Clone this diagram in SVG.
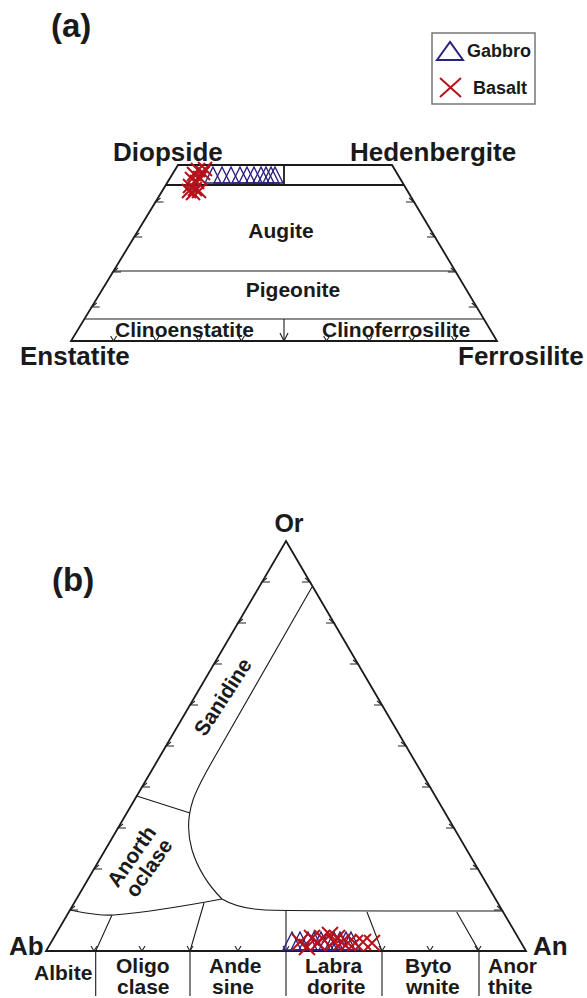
<svg xmlns="http://www.w3.org/2000/svg" xmlns:xlink="http://www.w3.org/1999/xlink" width="587" height="998" viewBox="0 0 587 998">
<style>
text{font-family:"Liberation Sans",Arial,sans-serif;font-weight:bold;fill:#1a1a1a}
.outer{fill:none;stroke:#1a1a1a;stroke-width:1.8}
.inner{fill:none;stroke:#1a1a1a;stroke-width:1.1}
.tick{fill:none;stroke:#222;stroke-width:1.1}
.tri{fill:none;stroke:#2b2180;stroke-width:1.4}
.x{fill:none;stroke:#b5121b;stroke-width:2}
.corner{font-size:26px}
.region{font-size:21px}
.panel{font-size:33px}
.plag{font-size:21px}
</style>
<defs>
<path id="ta" d="M-8,8 L0,-8 L8,8 Z" class="tri"/>
<path id="tb" d="M-9,9 L0,-9 L9,9 Z" class="tri"/>
<path id="xa" d="M-7,-7 L7,7 M-7,7 L7,-7" class="x"/>
<path id="xb" d="M-8,-8 L8,8 M-8,8 L8,-8" class="x"/>
<path id="tl" d="M5,-4 L0,0 L8,0" class="tick"/>
<path id="tr" d="M-5,-4 L0,0 L-8,0" class="tick"/>
<path id="tbot" d="M-3,-5 L0,0 L3,-5" class="tick"/>
</defs>

<text class="panel" x="51" y="37">(a)</text>

<g id="legend">
<rect x="432" y="33" width="103" height="71" fill="#fff" stroke="#777" stroke-width="1.5"/>
<path d="M437,60 L450,42 L463,60 Z" fill="none" stroke="#2b2180" stroke-width="2"/>
<text x="467" y="57" font-size="18">Gabbro</text>
<path d="M440,78 L461,97 M440,97 L461,78" fill="none" stroke="#b5121b" stroke-width="2"/>
<text x="473" y="94" font-size="18">Basalt</text>
</g>

<g id="panel-a">
<polygon class="outer" points="178,165 392,165 497,341 71,341"/>
<g id="a-lines">
<line class="outer" x1="165.8" y1="185" x2="404" y2="185"/>
<line class="inner" x1="113.6" y1="271" x2="455" y2="271"/>
<line class="inner" x1="84.4" y1="319" x2="483.9" y2="319"/>
<line class="outer" x1="284" y1="165" x2="284" y2="185"/>
<line class="inner" x1="284" y1="319" x2="284" y2="341"/>
<path class="inner" d="M280,333 L284,341 L288,333"/>
</g>
<g id="a-ticks">
<use href="#tl" x="155.5" y="202"/><use href="#tl" x="134.2" y="237"/><use href="#tl" x="113" y="272"/><use href="#tl" x="91.7" y="307"/>
<use href="#tr" x="414" y="202"/><use href="#tr" x="435" y="237"/><use href="#tr" x="455.8" y="272"/><use href="#tr" x="476.7" y="307"/>
<use href="#tbot" x="113.6" y="341"/><use href="#tbot" x="156.2" y="341"/><use href="#tbot" x="198.8" y="341"/><use href="#tbot" x="241.4" y="341"/>
<use href="#tbot" x="326.6" y="341"/><use href="#tbot" x="369.2" y="341"/><use href="#tbot" x="411.8" y="341"/><use href="#tbot" x="454.4" y="341"/>
</g>
<text class="corner" x="113" y="161">Diopside</text>
<text class="corner" x="350" y="161">Hedenbergite</text>
<text class="corner" x="20" y="365">Enstatite</text>
<text class="corner" x="458" y="365">Ferrosilite</text>
<text class="region" x="281" y="238" text-anchor="middle">Augite</text>
<text class="region" x="293" y="297" text-anchor="middle">Pigeonite</text>
<text class="region" x="115" y="337">Clinoenstatite</text>
<text class="region" x="322" y="337">Clinoferrosilite</text>
<g id="a-gabbro">
<use href="#ta" x="213" y="175"/><use href="#ta" x="222" y="175"/><use href="#ta" x="231" y="175"/><use href="#ta" x="240" y="175"/>
<use href="#ta" x="247" y="175"/><use href="#ta" x="254" y="175"/><use href="#ta" x="261" y="175"/><use href="#ta" x="266" y="175"/>
<use href="#ta" x="271" y="175"/><use href="#ta" x="275" y="175"/>
</g>
<g id="a-basalt">
<use href="#xa" x="198" y="170"/><use href="#xa" x="203" y="173"/><use href="#xa" x="194" y="174"/><use href="#xa" x="200" y="178"/>
<use href="#xa" x="192" y="179"/><use href="#xa" x="197" y="182"/><use href="#xa" x="205" y="169"/><use href="#xa" x="190" y="186"/>
<use href="#xa" x="195" y="189"/><use href="#xa" x="189" y="191"/><use href="#xa" x="199" y="191"/><use href="#xa" x="193" y="193"/>
</g>
</g>

<text class="panel" x="52" y="591">(b)</text>

<g id="panel-b">
<polygon class="outer" points="286,541 526,951 46,951"/>
<g id="b-lines">
<path class="inner" d="M312,587 L213,760 C205,774 197,788 193,800 C188,815 187,833 192,850 C197,866 207,884 222,899 C232,905 245,909 265,910 C290,911 320,911 502,911"/>
<path class="inner" d="M136.7,796 L190,813"/>
<path class="inner" d="M70,910 C85,913 98,916 114,915 C150,912 190,905 222,899"/>
<path class="inner" d="M112,915 L95.7,951 L95.7,996"/>
<path class="inner" d="M204,903 L190,951 L190,996"/>
<path class="inner" d="M286,911 L286,996"/>
<path class="inner" d="M367,912 L382,951 L382,996"/>
<path class="inner" d="M456.7,912 L479,951 L479,996"/>
</g>
<g id="b-ticks">
<use href="#tl" x="262" y="582"/><use href="#tl" x="238" y="623"/><use href="#tl" x="214" y="664"/><use href="#tl" x="190" y="705"/>
<use href="#tl" x="166" y="746"/><use href="#tl" x="142" y="787"/><use href="#tl" x="118" y="828"/><use href="#tl" x="94" y="869"/><use href="#tl" x="70" y="910"/>
<use href="#tr" x="310" y="582"/><use href="#tr" x="334" y="623"/><use href="#tr" x="358" y="664"/><use href="#tr" x="382" y="705"/>
<use href="#tr" x="406" y="746"/><use href="#tr" x="430" y="787"/><use href="#tr" x="454" y="828"/><use href="#tr" x="478" y="869"/><use href="#tr" x="502" y="910"/>
<use href="#tbot" x="94" y="951"/><use href="#tbot" x="142" y="951"/><use href="#tbot" x="190" y="951"/><use href="#tbot" x="238" y="951"/>
<use href="#tbot" x="286" y="951"/><use href="#tbot" x="334" y="951"/><use href="#tbot" x="382" y="951"/><use href="#tbot" x="430" y="951"/><use href="#tbot" x="478" y="951"/>
</g>
<text x="289" y="532" font-size="25" text-anchor="middle">Or</text>
<text x="9" y="955" font-size="26">Ab</text>
<text x="533" y="955" font-size="26">An</text>
<text class="region" transform="translate(223,697) rotate(-57)" text-anchor="middle" y="7">Sanidine</text>
<text class="region" transform="translate(131.7,856.5) rotate(-55)" text-anchor="middle" y="7">Anorth</text>
<text class="region" transform="translate(149,868) rotate(-55)" text-anchor="middle" y="7">oclase</text>
<g id="plag-labels">
<text class="plag" x="34" y="980">Albite</text>
<text class="plag" x="116" y="973">Oligo</text>
<text class="plag" x="117" y="994">clase</text>
<text class="plag" x="209" y="973">Ande</text>
<text class="plag" x="212" y="994">sine</text>
<text class="plag" x="305" y="973">Labra</text>
<text class="plag" x="307" y="994">dorite</text>
<text class="plag" x="405" y="973">Byto</text>
<text class="plag" x="406" y="994">wnite</text>
<text class="plag" x="488" y="973">Anor</text>
<text class="plag" x="488" y="994">thite</text>
</g>
<g id="b-gabbro">
<use href="#tb" x="292" y="941"/><use href="#tb" x="300" y="941"/><use href="#tb" x="308" y="941"/><use href="#tb" x="314" y="941"/>
<use href="#tb" x="321" y="941"/><use href="#tb" x="328" y="941"/><use href="#tb" x="334" y="941"/><use href="#tb" x="340" y="941"/>
<use href="#tb" x="346" y="941"/><use href="#tb" x="351" y="941"/>
</g>
<g id="b-basalt">
<use href="#xb" x="300" y="942"/><use href="#xb" x="307" y="947"/><use href="#xb" x="312" y="938"/><use href="#xb" x="318" y="943"/>
<use href="#xb" x="322" y="938"/><use href="#xb" x="330" y="935"/><use href="#xb" x="334" y="942"/><use href="#xb" x="337" y="938"/>
<use href="#xb" x="342" y="942"/><use href="#xb" x="348" y="943"/><use href="#xb" x="355" y="943"/><use href="#xb" x="363" y="942"/>
<use href="#xb" x="372" y="943"/>
</g>
</g>
</svg>
